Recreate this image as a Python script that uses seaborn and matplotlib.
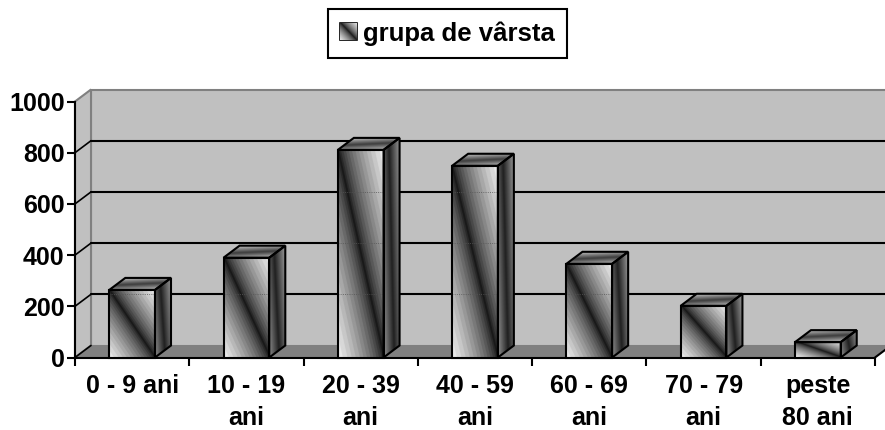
import numpy as np
import matplotlib
matplotlib.use('Agg')
import matplotlib.pyplot as plt
from matplotlib.patches import Polygon, Patch
from matplotlib.transforms import IdentityTransform
import seaborn as sns

categories = ['0 - 9 ani', '10 - 19\nani', '20 - 39\nani', '40 - 59\nani',
              '60 - 69\nani', '70 - 79\nani', 'peste\n80 ani']
values = [264, 390, 811, 749, 366, 202, 60]
y_ticks = [0, 200, 400, 600, 800, 1000]
legend_label = 'grupa de vârsta'

DX, DY = 16, 12
W, H = 885, 430
ident = IdentityTransform()

sns.set_style('white')
plt.rcParams['font.family'] = ['Liberation Sans', 'DejaVu Sans']
plt.rcParams['font.weight'] = 'bold'
plt.rcParams['text.color'] = 'black'
plt.rcParams['xtick.color'] = 'black'
plt.rcParams['ytick.color'] = 'black'

fig = plt.figure(figsize=(W / 100, H / 100), dpi=100)
ax = fig.add_axes([75 / W, (H - 357.5) / H, 800 / W, 256 / H])
ax.patch.set_visible(False)

sns.barplot(x=list(range(len(values))), y=values, color='white', width=0.4,
            edgecolor='black', linewidth=1.5, ax=ax)
ax.set_xlim(-0.5, len(values) - 0.5)
ax.set_ylim(0, 1000)


def poly(pts, **kw):
    p = Polygon(pts, closed=True, transform=ident, clip_on=False, **kw)
    ax.add_patch(p)
    return p


def stripes(pts, box, kind, lo, hi):
    # banded gradient, clipped to the face
    l, b, r, t = box
    ny, nx = 160, 160
    yy, xx = np.mgrid[0:1:ny * 1j, 0:1:nx * 1j]
    if kind == 'diag':
        d = np.abs(xx - yy) ** 0.7
    elif kind == 'side':
        d = np.abs(xx - 0.35 * yy - 0.3) * 1.6
    else:
        d = np.abs(yy - 0.5 + 0.25 * (xx - 0.5)) * 2.2
    d = np.clip(d, 0, 1)
    d = np.floor(d * 14) / 14
    img = lo + (hi - lo) * d
    im = ax.imshow(img, cmap='gray', vmin=0, vmax=1, extent=(l, r, b, t),
                   origin='upper', aspect='auto', transform=ident, zorder=3)
    clip = Polygon(pts, closed=True, transform=ident)
    im.set_clip_path(clip)
    im.set_clip_box(fig.bbox)
    return im


# chart walls
x0, y0 = ax.transData.transform((-0.5, 0))
x1, _ = ax.transData.transform((len(values) - 0.5, 0))
_, ytop = ax.transData.transform((0, 1000))
poly([(x0 + DX, y0 + DY), (x1 + DX, y0 + DY), (x1 + DX, ytop + DY), (x0 + DX, ytop + DY)],
     facecolor='#c0c0c0', edgecolor='#808080', linewidth=1.5, zorder=0)
poly([(x0, y0), (x0 + DX, y0 + DY), (x0 + DX, ytop + DY), (x0, ytop)],
     facecolor='#c0c0c0', edgecolor='#808080', linewidth=1.5, zorder=0)
poly([(x0, y0), (x1, y0), (x1 + DX, y0 + DY), (x0 + DX, y0 + DY)],
     facecolor='#808080', edgecolor='#808080', linewidth=0.5, zorder=0.5)
ax.plot([x1, x1 + DX], [y0, y0 + DY], color='black', lw=1.5, transform=ident,
        clip_on=False, zorder=1)

# gridlines on back wall and the short links on the side wall
for v in y_ticks[:-1]:
    _, yv = ax.transData.transform((0, v))
    if v > 0:
        ax.plot([x0 + DX, x1 + DX], [yv + DY, yv + DY], color='black', lw=1.5,
                transform=ident, clip_on=False, zorder=1)
    ax.plot([x0, x0 + DX], [yv, yv + DY], color='black', lw=1.2,
            transform=ident, clip_on=False, zorder=1)

# front faces come from seaborn, depth is added around them
for bar in list(ax.patches):
    if not hasattr(bar, 'get_width'):
        continue
    (l, b), (r, t) = ax.transData.transform(
        [(bar.get_x(), bar.get_y()), (bar.get_x() + bar.get_width(), bar.get_height())])
    bar.set_facecolor('none')
    bar.set_zorder(4)
    bar.set_clip_on(False)
    front = [(l, b), (r, b), (r, t), (l, t)]
    side = [(r, b), (r + DX, b + DY), (r + DX, t + DY), (r, t)]
    top = [(l, t), (r, t), (r + DX, t + DY), (l + DX, t + DY)]
    stripes(front, (l, b, r, t), 'diag', 0.1, 0.97)
    stripes(side, (r, b, r + DX, t + DY), 'side', 0.14, 0.56)
    stripes(top, (l, t, r + DX, t + DY), 'top', 0.25, 0.66)
    poly(side, facecolor='none', edgecolor='black', linewidth=1.5, zorder=4)
    poly(top, facecolor='none', edgecolor='black', linewidth=1.5, zorder=4)
    # faint dotted gridline showing through the bar
    for v in y_ticks[1:-1]:
        _, yv = ax.transData.transform((0, v))
        if b < yv + DY < t:
            ax.plot([l, r], [yv + DY, yv + DY], color='#555555', lw=0.6, ls=':',
                    transform=ident, clip_on=False, zorder=3.5)

# axes and labels
centers = list(range(len(categories)))
ax.set_xticks(centers, categories, fontsize=18, linespacing=1.42)
ax.set_xticks([c - 0.5 for c in centers] + [centers[-1] + 0.5], minor=True)
ax.set_yticks(y_ticks, [str(v) for v in y_ticks], fontsize=18)
ax.tick_params(axis='x', which='major', length=0, pad=12)
ax.tick_params(axis='x', which='minor', length=5.5, width=1.5, color='black', bottom=True)
ax.tick_params(axis='y', length=5.5, width=1.5, color='black', left=True, pad=2)
sns.despine(ax=ax, top=True, right=True)
for s in ('left', 'bottom'):
    ax.spines[s].set_color('black')
    ax.spines[s].set_linewidth(1.5)
    ax.spines[s].set_zorder(2)

leg = ax.legend(handles=[Patch(facecolor='none', edgecolor='black', linewidth=1.2, label=legend_label)],
                loc='center', bbox_to_anchor=(447.5 / W, (H - 33.5) / H),
                bbox_transform=fig.transFigure, frameon=True, fancybox=False,
                framealpha=1, edgecolor='black', fontsize=18.5,
                handlelength=0.66, handleheight=0.66, handletextpad=0.25,
                borderpad=0.48, borderaxespad=0)
leg.get_frame().set_linewidth(1.5)
fig.canvas.draw()
hb = leg.legend_handles[0].get_window_extent()
stripes([(hb.x0, hb.y0), (hb.x1, hb.y0), (hb.x1, hb.y1), (hb.x0, hb.y1)],
        (hb.x0, hb.y0, hb.x1, hb.y1), 'diag', 0.1, 0.95).set_zorder(6)

ax.set_xlim(-0.5, len(values) - 0.5)
ax.set_ylim(0, 1000)
fig.savefig('out.png', dpi=100)
